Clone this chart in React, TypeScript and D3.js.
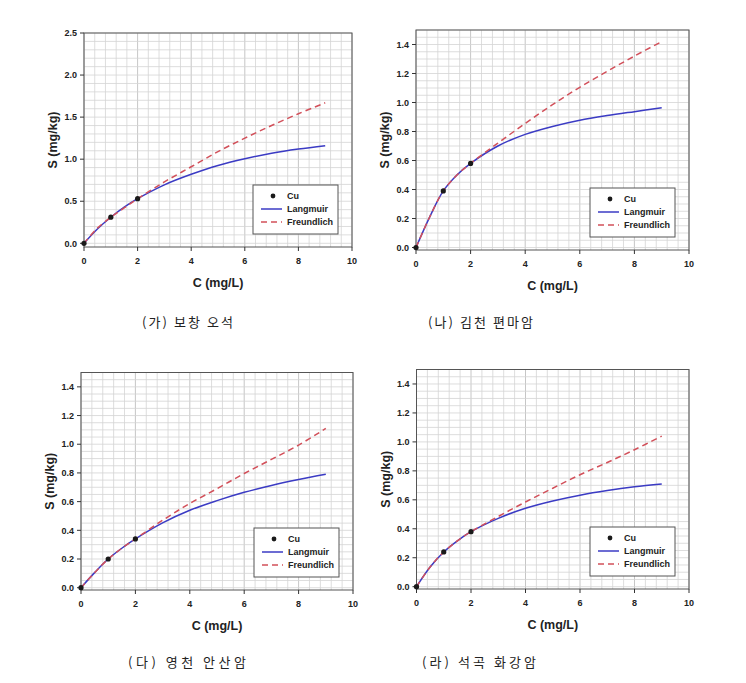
import React from "react";
import * as d3 from "d3";

// ---------- data ----------
const pointC = [0, 1, 2];
const curveC = [0, 0.5, 1, 1.5, 2, 3, 4, 5, 6, 7, 8, 9];

const captions = ["(가) 보창 오석", "(나) 김천 편마암", "(다) 영천 안산암", "(라) 석곡 화강암"];

const cuA = [0, 0.31, 0.53];
const langA = [0, 0.17, 0.31, 0.43, 0.53, 0.695, 0.82, 0.925, 1.005, 1.07, 1.12, 1.16];
const freuA = [0, 0.18, 0.31, 0.42, 0.53, 0.73, 0.91, 1.09, 1.25, 1.4, 1.54, 1.67];

const cuB = [0, 0.39, 0.58];
const langB = [0, 0.21, 0.39, 0.5, 0.58, 0.7, 0.78, 0.835, 0.878, 0.91, 0.937, 0.963];
const freuB = [0, 0.21, 0.39, 0.5, 0.58, 0.72, 0.855, 0.985, 1.105, 1.215, 1.32, 1.42];

const cuC = [0, 0.2, 0.34];
const langC = [0, 0.105, 0.2, 0.275, 0.34, 0.452, 0.54, 0.607, 0.665, 0.713, 0.754, 0.79];
const freuC = [0, 0.105, 0.2, 0.275, 0.34, 0.47, 0.587, 0.69, 0.796, 0.894, 0.994, 1.11];

const cuD = [0, 0.24, 0.38];
const langD = [0, 0.136, 0.24, 0.317, 0.38, 0.472, 0.542, 0.592, 0.632, 0.664, 0.69, 0.71];
const freuD = [0, 0.136, 0.24, 0.317, 0.38, 0.485, 0.585, 0.68, 0.773, 0.858, 0.946, 1.04];

const xTicks = [0, 2, 4, 6, 8, 10];
const yTicksA = [0, 0.5, 1.0, 1.5, 2.0, 2.5];
const yTicksB = [0, 0.2, 0.4, 0.6, 0.8, 1.0, 1.2, 1.4];

const legendLabels = ["Cu", "Langmuir", "Freundlich"];

// ---------- layout ----------
type PanelCfg = {
  left: number; right: number; top: number; bottom: number; zeroY: number;
  yMax: number; yTicks: number[]; yGridStep: number;
  cu: number[]; lang: number[]; freu: number[];
  caption: string; capX: number; capY: number; capW: number;
};

const panels: PanelCfg[] = [
  { left: 84, right: 352, top: 33, bottom: 247, zeroY: 243.3, yMax: 2.5, yTicks: yTicksA, yGridStep: 0.1,
    cu: cuA, lang: langA, freu: freuA, caption: captions[0], capX: 142, capY: 327, capW: 91 },
  { left: 416, right: 689, top: 30, bottom: 250, zeroY: 247.5, yMax: 1.5, yTicks: yTicksB, yGridStep: 0.05,
    cu: cuB, lang: langB, freu: freuB, caption: captions[1], capX: 428, capY: 327, capW: 105 },
  { left: 81, right: 353, top: 372.5, bottom: 590, zeroY: 587.7, yMax: 1.5, yTicks: yTicksB, yGridStep: 0.05,
    cu: cuC, lang: langC, freu: freuC, caption: captions[2], capX: 128, capY: 667, capW: 118 },
  { left: 416.5, right: 689, top: 369.5, bottom: 589, zeroY: 586.7, yMax: 1.5, yTicks: yTicksB, yGridStep: 0.05,
    cu: cuD, lang: langD, freu: freuD, caption: captions[3], capX: 422, capY: 667, capW: 114 },
];

const AX_FONT = "Arial, 'Liberation Sans', sans-serif";
const LANG_COLOR = "#3b3bc4";
const FREU_COLOR = "#d2505a";

function Panel({ p }: { p: PanelCfg }) {
  const x = d3.scaleLinear().domain([0, 10]).range([p.left, p.right]);
  const y = d3.scaleLinear().domain([0, p.yMax]).range([p.zeroY, p.top]);

  const vGrid = d3.range(0, 10.0001, 0.4);
  const hGrid = d3.range(0, p.yMax + 1e-6, p.yGridStep);

  const line = d3
    .line<number>()
    .x((_, i) => x(curveC[i]))
    .y((d) => y(d))
    .curve(d3.curveCatmullRom.alpha(0.5));

  const fmt = d3.format(".1f");
  const lgW = 85, lgH = 49;
  const lgX = p.right - 14 - lgW;
  const lgY = p.bottom - 13 - lgH;
  const midX = (p.left + p.right) / 2;
  const midY = (p.top + p.bottom) / 2;

  return (
    <g>
      <rect x={p.left} y={p.top} width={p.right - p.left} height={p.bottom - p.top} fill="#fff" />
      {vGrid.map((v, i) => (
        <line key={"v" + i} x1={x(v)} x2={x(v)} y1={p.top} y2={p.bottom}
          stroke={i % 5 === 0 ? "#b8b8b8" : "#d4d4d4"} strokeWidth={0.8} />
      ))}
      {hGrid.map((v, i) => (
        <line key={"h" + i} x1={p.left} x2={p.right} y1={y(v)} y2={y(v)}
          stroke="#d4d4d4" strokeWidth={0.8} />
      ))}
      <rect x={p.left} y={p.top} width={p.right - p.left} height={p.bottom - p.top}
        fill="none" stroke="#555" strokeWidth={1} />
      {/* y ticks */}
      {p.yTicks.map((t) => (
        <g key={"yt" + t}>
          <line x1={p.left - 4} x2={p.left} y1={y(t)} y2={y(t)} stroke="#333" />
          <text x={p.left - 7} y={y(t) + 3.2} textAnchor="end" fontFamily={AX_FONT}
            fontWeight="bold" fontSize={9} fill="#222">{fmt(t)}</text>
        </g>
      ))}
      {/* x ticks */}
      {xTicks.map((t) => (
        <g key={"xt" + t}>
          <line x1={x(t)} x2={x(t)} y1={p.bottom} y2={p.bottom + 4} stroke="#333" />
          <text x={x(t)} y={p.bottom + 17} textAnchor="middle" fontFamily={AX_FONT}
            fontWeight="bold" fontSize={9} fill="#222">{t}</text>
        </g>
      ))}
      <text x={midX} y={p.bottom + 40} textAnchor="middle" fontFamily={AX_FONT}
        fontWeight="bold" fontSize={12.5} fill="#222">C (mg/L)</text>
      <text transform={`translate(${p.left - 27},${midY}) rotate(-90)`} textAnchor="middle"
        fontFamily={AX_FONT} fontWeight="bold" fontSize={12.5} fill="#222">S (mg/kg)</text>
      {/* curves */}
      <path d={line(p.lang) || ""} fill="none" stroke={LANG_COLOR} strokeWidth={1.5} />
      <path d={line(p.freu) || ""} fill="none" stroke={FREU_COLOR} strokeWidth={1.5} strokeDasharray="6,4" />
      {p.cu.map((v, i) => (
        <circle key={"c" + i} cx={x(pointC[i])} cy={y(v)} r={2.6} fill="#1a1a1a" />
      ))}
      {/* legend */}
      <rect x={lgX} y={lgY} width={lgW} height={lgH} fill="#fff" stroke="#555" strokeWidth={1} />
      <circle cx={lgX + 20} cy={lgY + 11} r={2.4} fill="#1a1a1a" />
      <line x1={lgX + 8} x2={lgX + 29} y1={lgY + 24} y2={lgY + 24} stroke={LANG_COLOR} strokeWidth={1.5} />
      <line x1={lgX + 8} x2={lgX + 29} y1={lgY + 37} y2={lgY + 37} stroke={FREU_COLOR} strokeWidth={1.5} strokeDasharray="6,4" />
      {legendLabels.map((l, i) => (
        <text key={l} x={lgX + 34} y={lgY + 14 + i * 13} fontFamily={AX_FONT} fontWeight="bold"
          fontSize={9} fill="#222">{l}</text>
      ))}
      {/* caption */}
      <text x={p.capX} y={p.capY} fontFamily="'Noto Sans CJK KR', sans-serif" fontSize={13}
        fill="#222" textLength={p.capW} lengthAdjust="spacing">{p.caption}</text>
    </g>
  );
}

export default function App() {
  return (
    <svg width={746} height={683} style={{ position: "absolute", left: 0, top: 0, background: "#fff" }}>
      <rect x={0} y={0} width={746} height={683} fill="#fff" />
      {panels.map((p, i) => (
        <Panel key={i} p={p} />
      ))}
    </svg>
  );
}
